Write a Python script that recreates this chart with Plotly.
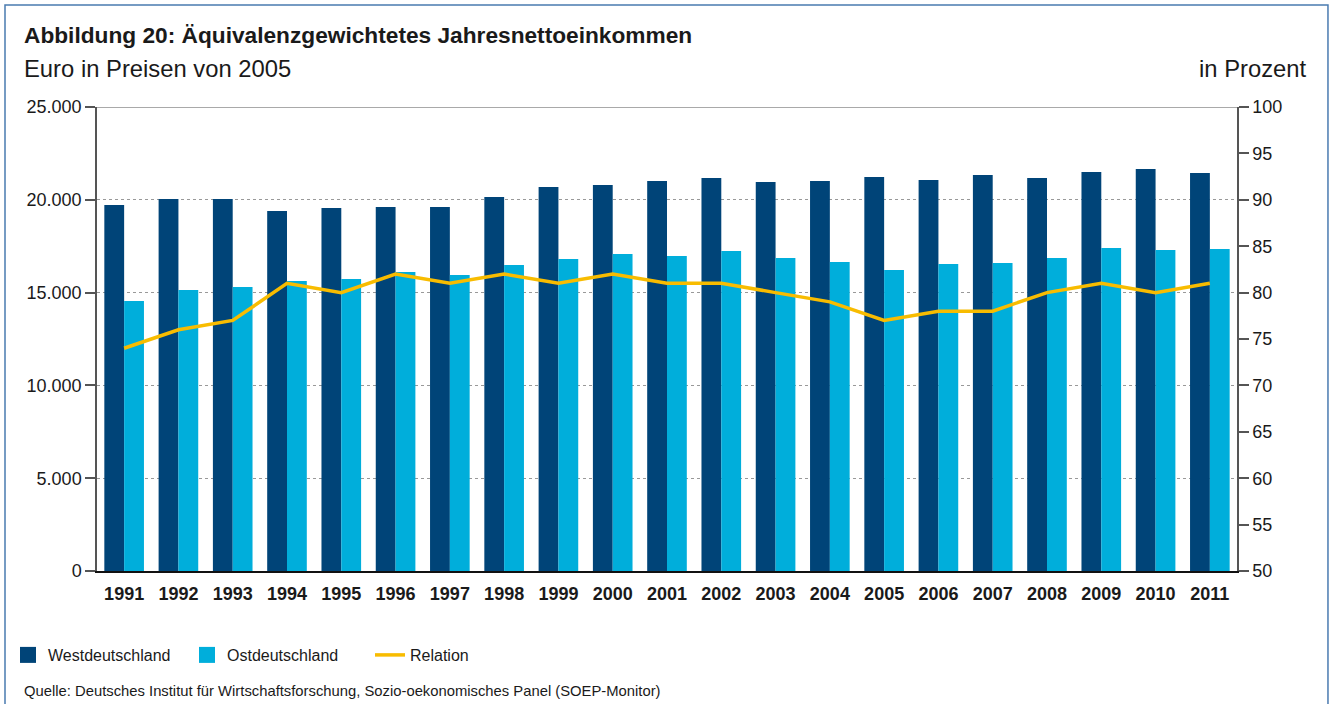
import plotly.graph_objects as go

years = [str(y) for y in range(1991, 2012)]
west = [19720, 20040, 20040, 19400, 19560, 19610, 19610, 20150, 20690, 20800, 21010,
        21170, 20960, 21010, 21230, 21070, 21340, 21170, 21500, 21660, 21440]
east = [14550, 15140, 15300, 15620, 15730, 16110, 15950, 16490, 16810, 17080, 16970,
        17240, 16860, 16650, 16220, 16540, 16600, 16860, 17400, 17300, 17350]
relation = [74, 76, 77, 81, 80, 82, 81, 82, 81, 82, 81, 81, 80, 79, 77, 78, 78, 80, 81, 80, 81]

left_ticks = [0, 5000, 10000, 15000, 20000, 25000]
right_ticks = list(range(50, 101, 5))

FONT = "Liberation Sans, Arial, sans-serif"
TXT = "#1a1a1a"
C_WEST = "#004478"
C_EAST = "#00AEDB"
C_REL = "#F8BC00"

W, H = 1335, 704

fig = go.Figure()
fig.add_trace(go.Bar(x=years, y=west, name="Westdeutschland", marker_color=C_WEST,
                     marker_line_width=0, showlegend=False))
fig.add_trace(go.Bar(x=years, y=east, name="Ostdeutschland", marker_color=C_EAST,
                     marker_line_width=0, showlegend=False))
fig.add_trace(go.Scatter(x=years, y=relation, name="Relation", mode="lines",
                         line=dict(color=C_REL, width=3.5), yaxis="y2", legend="legend3"))
# legend entries for the bars (larger square symbols)
fig.add_trace(go.Scatter(x=[None], y=[None], mode="markers", name="Westdeutschland",
                         marker=dict(symbol="square", size=16, color=C_WEST), legend="legend"))
fig.add_trace(go.Scatter(x=[None], y=[None], mode="markers", name="Ostdeutschland",
                         marker=dict(symbol="square", size=16, color=C_EAST), legend="legend2"))

leg_common = dict(orientation="h", xref="container", yref="container", xanchor="left",
                  yanchor="middle", y=1 - 655 / H, font=dict(size=16, family=FONT, color=TXT),
                  bgcolor="rgba(0,0,0,0)", borderwidth=0)

fig.update_layout(
    width=W, height=H,
    paper_bgcolor="white", plot_bgcolor="white",
    margin=dict(l=97, r=98, t=107, b=133, autoexpand=False),
    separators=",.",
    font=dict(family=FONT, color=TXT, size=17),
    barmode="group", bargap=0.27, bargroupgap=0,
    showlegend=True,
    legend=dict(leg_common, x=8 / W),
    legend2=dict(leg_common, x=187 / W),
    legend3=dict(leg_common, x=370 / W),
    xaxis=dict(type="category", showgrid=False, ticks="", showline=True, linecolor="#111",
               linewidth=1.5, automargin=False,
               tickfont=dict(size=18, family=FONT, color=TXT, weight="bold"),
               ticklabelstandoff=6),
    yaxis=dict(range=[0, 25000], tickvals=left_ticks, tickformat=",d", showgrid=True,
               gridcolor="#999", griddash="dot", gridwidth=1, showline=True, linecolor="#555",
               linewidth=1.5, ticks="outside", ticklen=10, tickcolor="#555", tickwidth=1.5,
               zeroline=False, automargin=False, tickfont=dict(size=18, family=FONT, color=TXT)),
    yaxis2=dict(range=[50, 100], tickvals=right_ticks, overlaying="y", side="right",
                showgrid=False, showline=True, linecolor="#555", linewidth=1.5,
                ticks="outside", ticklen=10, tickcolor="#555", tickwidth=1.5, zeroline=False,
                automargin=False, tickfont=dict(size=18, family=FONT, color=TXT)),
)

fig.add_annotation(text="<b>Abbildung 20: Äquivalenzgewichtetes Jahresnettoeinkommen</b>",
                   xref="paper", yref="paper", x=-0.066, y=1.155, xanchor="left", yanchor="middle",
                   showarrow=False, font=dict(size=22.7, family=FONT, color=TXT))
fig.add_annotation(text="Euro in Preisen von 2005", xref="paper", yref="paper",
                   x=-0.066, y=1.084, xanchor="left", yanchor="middle", showarrow=False,
                   font=dict(size=23.8, family=FONT, color=TXT))
fig.add_annotation(text="in Prozent", xref="paper", yref="paper",
                   x=1.0633, y=1.084, xanchor="right", yanchor="middle", showarrow=False,
                   font=dict(size=23.8, family=FONT, color=TXT))
fig.add_annotation(text="Quelle: Deutsches Institut für Wirtschaftsforschung, Sozio-oekonomisches Panel (SOEP-Monitor)",
                   xref="paper", yref="paper", x=-0.066, y=-0.259, xanchor="left", yanchor="middle",
                   showarrow=False, font=dict(size=14.8, family=FONT, color=TXT))
# top border line of plot
fig.add_shape(type="line", xref="paper", yref="y", x0=0, x1=1, y0=25000, y1=25000,
              line=dict(color="#555", width=1))
# frame around figure
fig.add_shape(type="rect", xref="paper", yref="paper",
              x0=-0.0807, x1=1.0798, y0=-0.32, y1=1.22,
              line=dict(color="#4a7bb0", width=1.5), layer="below")

fig.write_html("out.html", config={"displayModeBar": False},
               post_script="document.body.style.margin='0px';")
